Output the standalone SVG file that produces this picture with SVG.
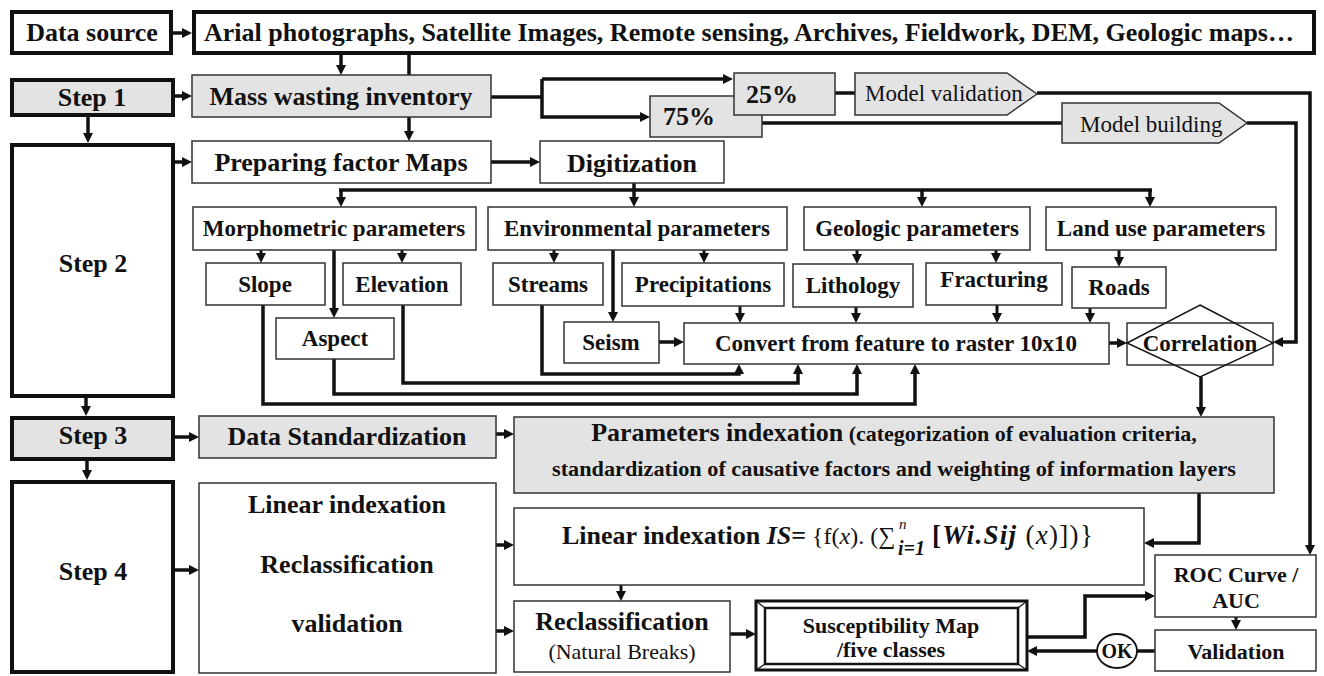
<svg xmlns="http://www.w3.org/2000/svg" width="1324" height="676" viewBox="0 0 1324 676">
<defs>
<marker id="ah" viewBox="0 0 10 10" refX="2" refY="5" markerWidth="10" markerHeight="10" markerUnits="userSpaceOnUse" orient="auto">
<path d="M0,0 L10,5 L0,10 z" fill="#111"/>
</marker>
<style>
.box{fill:#fff;stroke:#333;stroke-width:1.5}
.gbox{fill:#e3e3e3;stroke:#333;stroke-width:1.5}
.tbox{fill:#fff;stroke:#111;stroke-width:4}
.tgbox{fill:#e3e3e3;stroke:#111;stroke-width:4}
.c{fill:none;stroke:#111;stroke-width:3.5}
.cs{fill:none;stroke:#111;stroke-width:3}
.a{marker-end:url(#ah)}
text{font-family:"Liberation Serif","Times New Roman",serif;fill:#111}
.t{font-weight:bold;text-anchor:middle}
.l{text-anchor:start}
.b26{font-size:26px}
.b23{font-size:23px}
.b22{font-size:22px}
.n{font-weight:normal}
</style>
</defs>
<rect width="1324" height="676" fill="#fff"/>

<g id="connectors">
<path class="c a" d="M173,33 H184"/>
<path class="c a" d="M341,55 V67"/>
<path class="c a" d="M409,55 V133"/>
<path class="c a" d="M175,96 H184"/>
<path class="c a" d="M88,117 V135"/>
<path class="c a" d="M175,162 H184"/>
<path class="c a" d="M491,162 H532"/>
<path class="c" d="M491,97 H542"/>
<path class="c a" d="M542,79 H725"/>
<path class="c a" d="M542,79 V117 H642"/>
<path class="c" d="M835,93 H855"/>
<path class="c a" d="M1037,93 H1310 V547"/>
<path class="c" d="M762,123 H1062"/>
<path class="c a" d="M1247,123 H1296 V342 H1281"/>
<path class="c a" d="M634,183 V199"/>
<path class="c" d="M339,190 H1152"/>
<path class="c a" d="M341,190 V199"/>
<path class="c a" d="M922,190 V199"/>
<path class="c a" d="M1150,190 V199"/>
<path class="cs a" d="M261,250 V255"/>
<path class="c a" d="M334,250 V310"/>
<path class="cs a" d="M402,250 V255"/>
<path class="cs a" d="M554,250 V255"/>
<path class="c a" d="M613,250 V314"/>
<path class="cs a" d="M704,250 V255"/>
<path class="cs a" d="M857,250 V256"/>
<path class="cs a" d="M996,250 V255"/>
<path class="cs a" d="M1119,250 V259"/>
<path class="cs a" d="M740,306 V315"/>
<path class="cs a" d="M856,307 V315"/>
<path class="cs a" d="M997,305 V315"/>
<path class="cs a" d="M1090,308 V315"/>
<path class="c a" d="M659,342 H676"/>
<path class="c a" d="M1109,343 H1119"/>
<path class="c a" d="M542,305 V374 H739 V372"/>
<path class="c a" d="M403,305 V383 H798 V372"/>
<path class="c a" d="M334,359 V394 H857 V372"/>
<path class="c a" d="M263,305 V404 H915 V372"/>
<path class="c a" d="M1201,377 V409"/>
<path class="c a" d="M86,398 V408"/>
<path class="c a" d="M175,437 H191"/>
<path class="c a" d="M496,434 H506"/>
<path class="c a" d="M87,461 V472"/>
<path class="c a" d="M175,570 H191"/>
<path class="c a" d="M496,545 H506"/>
<path class="c a" d="M496,631 H506"/>
<path class="c a" d="M1199,493 V543 H1152"/>
<path class="cs a" d="M621,585 V593"/>
<path class="c a" d="M730,634 H748"/>
<path class="c a" d="M1027,637 H1085 V596 H1147"/>
<path class="cs a" d="M1236,617 V622"/>
<path class="c" d="M1155,651 H1137"/>
<path class="c a" d="M1097,651 H1035"/>
</g>

<g id="data-source"><rect class="tbox" x="12" y="12" width="159" height="41"/><text class="t b26" x="92" y="41">Data source</text></g>
<g id="sources"><rect class="tbox" x="194" y="12" width="1120" height="41"/><text class="t l b26" x="204" y="41" textLength="1090" lengthAdjust="spacingAndGlyphs">Arial photographs, Satellite Images, Remote sensing, Archives, Fieldwork, DEM, Geologic maps…</text></g>
<g id="step1"><rect class="tgbox" x="12" y="80" width="161" height="35"/><text class="t b26" x="92" y="106">Step 1</text></g>
<g id="inventory"><rect class="gbox" x="192" y="75" width="299" height="42"/><text class="t b26" x="341" y="105">Mass wasting inventory</text></g>
<g id="p75"><rect class="gbox" x="650" y="96" width="112" height="41"/><text class="t b26" x="689" y="125">75%</text></g>
<g id="p25"><rect class="gbox" x="734" y="73" width="101" height="42"/><text class="t b26" x="772" y="103">25%</text></g>
<g id="model-validation"><polygon class="gbox" points="855,73 1007,73 1037,94 1007,115 855,115"/><text class="l b23" x="865" y="101">Model validation</text></g>
<g id="model-building"><polygon class="gbox" points="1062,103 1219,103 1247,123 1219,143 1062,143"/><text class="l b23" x="1080" y="132">Model building</text></g>
<g id="factor-maps"><rect class="box" x="192" y="141" width="299" height="42"/><text class="t b26" x="341" y="171">Preparing factor Maps</text></g>
<g id="digitization"><rect class="box" x="540" y="141" width="184" height="42"/><text class="t b26" x="632" y="172">Digitization</text></g>
<g id="step2"><rect class="tbox" x="12" y="145" width="161" height="251"/><text class="t b26" x="93" y="272">Step 2</text></g>

<g id="morphometric"><rect class="box" x="193" y="207" width="283" height="43"/><text class="t b23" x="334" y="236">Morphometric parameters</text></g>
<g id="environmental"><rect class="box" x="488" y="207" width="299" height="43"/><text class="t b23" x="637" y="236">Environmental parameters</text></g>
<g id="geologic"><rect class="box" x="804" y="207" width="226" height="43"/><text class="t b23" x="917" y="236">Geologic parameters</text></g>
<g id="landuse"><rect class="box" x="1046" y="207" width="230" height="43"/><text class="t b23" x="1161" y="236">Land use parameters</text></g>

<g id="slope"><rect class="box" x="206" y="263" width="119" height="42"/><text class="t b23" x="265" y="292">Slope</text></g>
<g id="elevation"><rect class="box" x="343" y="263" width="118" height="42"/><text class="t b23" x="402" y="292">Elevation</text></g>
<g id="aspect"><rect class="box" x="276" y="318" width="118" height="41"/><text class="t b23" x="335" y="346">Aspect</text></g>
<g id="streams"><rect class="box" x="493" y="263" width="110" height="42"/><text class="t b23" x="548" y="292">Streams</text></g>
<g id="precipitations"><rect class="box" x="622" y="263" width="162" height="43"/><text class="t b23" x="703" y="292">Precipitations</text></g>
<g id="seism"><rect class="box" x="564" y="322" width="95" height="41"/><text class="t b23" x="611" y="350">Seism</text></g>
<g id="lithology"><rect class="box" x="793" y="264" width="120" height="43"/><text class="t b23" x="853" y="293">Lithology</text></g>
<g id="fracturing"><rect class="box" x="926" y="263" width="136" height="42"/><text class="t b23" x="994" y="287">Fracturing</text></g>
<g id="roads"><rect class="box" x="1072" y="267" width="94" height="41"/><text class="t b23" x="1119" y="295">Roads</text></g>
<g id="convert"><rect class="box" x="684" y="323" width="425" height="41"/><text class="t b23" x="896" y="351">Convert from feature to raster 10x10</text></g>
<g id="correlation"><rect class="box" x="1127" y="323" width="146" height="42"/><polygon fill="none" stroke="#111" stroke-width="1.5" points="1200,305 1273,343 1200,377 1127,343"/><text class="t b23" x="1200" y="351">Correlation</text></g>

<g id="step3"><rect class="tgbox" x="12" y="418" width="161" height="41"/><text class="t b26" x="93" y="444">Step 3</text></g>
<g id="standardization"><rect class="gbox" x="199" y="416" width="297" height="42"/><text class="t b26" x="347" y="445">Data Standardization</text></g>
<g id="indexation"><rect class="gbox" x="514" y="417" width="760" height="76"/>
<text class="t b26" x="894" y="441">Parameters indexation<tspan class="b22"> (categorization of evaluation criteria,</tspan></text>
<text class="t b22" x="894" y="476" textLength="684" lengthAdjust="spacingAndGlyphs">standardization of causative factors and weighting of information layers</text></g>

<g id="step4"><rect class="tbox" x="12" y="482" width="161" height="190"/><text class="t b26" x="93" y="580">Step 4</text></g>
<g id="methods"><rect class="box" x="199" y="483" width="297" height="190"/>
<text class="t b26" x="347" y="513">Linear indexation</text>
<text class="t b26" x="347" y="573">Reclassification</text>
<text class="t b26" x="347" y="632">validation</text></g>
<g id="linear-index"><rect class="box" x="514" y="508" width="630" height="77"/>
<text class="l b26" font-weight="bold" x="562" y="544">Linear indexation <tspan font-style="italic">IS</tspan>=<tspan x="812" font-size="24" font-weight="normal">{f(<tspan font-style="italic">x</tspan>). (∑</tspan><tspan x="899" y="529" font-size="15" font-style="italic" font-weight="normal">n</tspan><tspan x="898" y="555" font-size="20" font-style="italic">i=1</tspan><tspan x="932" y="544" font-size="27" letter-spacing="1.3">[<tspan font-style="italic">Wi.Sij</tspan><tspan font-weight="normal"> (<tspan font-style="italic">x</tspan>)])}</tspan></tspan></text></g>
<g id="reclassification"><rect class="box" x="514" y="601" width="216" height="71"/>
<text class="t b26" x="622" y="630">Reclassification</text>
<text class="t n b22" x="622" y="659">(Natural Breaks)</text></g>
<g id="susceptibility"><rect fill="#fff" stroke="#111" stroke-width="3" x="756" y="601" width="271" height="69"/>
<rect fill="none" stroke="#111" stroke-width="2.5" x="765" y="608" width="253" height="56"/>
<path fill="none" stroke="#111" stroke-width="1.2" d="M756,601 L765,608 M1027,601 L1018,608 M756,670 L765,664 M1027,670 L1018,664"/>
<text class="t b22" x="891" y="633">Susceptibility Map</text>
<text class="t b22" x="891" y="657">/five classes</text></g>
<g id="roc"><rect class="box" x="1155" y="555" width="161" height="62"/>
<text class="t b22" x="1236" y="582">ROC Curve /</text>
<text class="t b22" x="1236" y="608">AUC</text></g>
<g id="validation"><rect class="box" x="1155" y="630" width="161" height="41"/><text class="t b22" x="1236" y="659">Validation</text></g>
<g id="ok"><ellipse fill="#fff" stroke="#111" stroke-width="1.8" cx="1117" cy="651" rx="20" ry="17"/><text class="t" font-size="20" x="1117" y="658">OK</text></g>
</svg>
